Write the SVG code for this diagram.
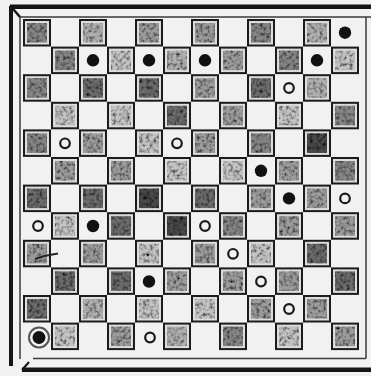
<svg xmlns="http://www.w3.org/2000/svg" width="371" height="376" viewBox="0 0 371 376">
<style>
.frame{fill:#151515}
.thin{stroke:#3a3a3a;stroke-width:1.5;fill:none}
.sq{fill:#dcdcdc;stroke:#1c1c1c;stroke-width:2}
.l{fill:#c4c4c4}.ml{fill:#b0b0b0}.m{fill:#9c9c9c}.md{fill:#868686}.d{fill:#6c6c6c}.vd{fill:#484848}
.bk{fill:#111}
.op{fill:none;stroke:#1a1a1a;stroke-width:2.2}
</style>
<defs>
<filter id="mottle" x="0" y="0" width="1" height="1">
<feTurbulence type="fractalNoise" baseFrequency="0.3" numOctaves="2" seed="7" result="n"/>
<feColorMatrix in="n" type="matrix" values="0 0 0 0 0 0 0 0 0 0 0 0 0 0 0 0 0 0 -2.2 1.3" result="a"/>
<feComposite in="a" in2="SourceGraphic" operator="in" result="spots"/>
<feMerge><feMergeNode in="SourceGraphic"/><feMergeNode in="spots"/></feMerge>
</filter>
</defs>
<rect width="371" height="376" fill="#f1f1f1"/>
<g id="frame">
<rect class="frame" x="10" y="4.5" width="361" height="4.5"/>
<rect class="frame" x="9" y="6" width="4" height="360"/>
<rect class="frame" x="22" y="367.5" width="349" height="4.5"/>
<path d="M10 5.5 L20 17" stroke="#151515" stroke-width="2.5"/>
<path d="M22 370 L29 362" stroke="#151515" stroke-width="2"/>
<path class="thin" d="M20 17 H371 M20 17 V359 M33 358.5 H366 M366 17 V358.5"/>
</g>
<g id="squares">
<rect class="sq" x="24" y="20" width="26" height="25.5"/><rect class="sq" x="80" y="20" width="26" height="25.5"/><rect class="sq" x="136" y="20" width="26" height="25.5"/><rect class="sq" x="192" y="20" width="26" height="25.5"/><rect class="sq" x="248" y="20" width="26" height="25.5"/><rect class="sq" x="304" y="20" width="26" height="25.5"/>
<rect class="sq" x="52" y="47.6" width="26" height="25.5"/><rect class="sq" x="108" y="47.6" width="26" height="25.5"/><rect class="sq" x="164" y="47.6" width="26" height="25.5"/><rect class="sq" x="220" y="47.6" width="26" height="25.5"/><rect class="sq" x="276" y="47.6" width="26" height="25.5"/><rect class="sq" x="332" y="47.6" width="26" height="25.5"/>
<rect class="sq" x="24" y="75.2" width="26" height="25.5"/><rect class="sq" x="80" y="75.2" width="26" height="25.5"/><rect class="sq" x="136" y="75.2" width="26" height="25.5"/><rect class="sq" x="192" y="75.2" width="26" height="25.5"/><rect class="sq" x="248" y="75.2" width="26" height="25.5"/><rect class="sq" x="304" y="75.2" width="26" height="25.5"/>
<rect class="sq" x="52" y="102.8" width="26" height="25.5"/><rect class="sq" x="108" y="102.8" width="26" height="25.5"/><rect class="sq" x="164" y="102.8" width="26" height="25.5"/><rect class="sq" x="220" y="102.8" width="26" height="25.5"/><rect class="sq" x="276" y="102.8" width="26" height="25.5"/><rect class="sq" x="332" y="102.8" width="26" height="25.5"/>
<rect class="sq" x="24" y="130.4" width="26" height="25.5"/><rect class="sq" x="80" y="130.4" width="26" height="25.5"/><rect class="sq" x="136" y="130.4" width="26" height="25.5"/><rect class="sq" x="192" y="130.4" width="26" height="25.5"/><rect class="sq" x="248" y="130.4" width="26" height="25.5"/><rect class="sq" x="304" y="130.4" width="26" height="25.5"/>
<rect class="sq" x="52" y="158" width="26" height="25.5"/><rect class="sq" x="108" y="158" width="26" height="25.5"/><rect class="sq" x="164" y="158" width="26" height="25.5"/><rect class="sq" x="220" y="158" width="26" height="25.5"/><rect class="sq" x="276" y="158" width="26" height="25.5"/><rect class="sq" x="332" y="158" width="26" height="25.5"/>
<rect class="sq" x="24" y="185.6" width="26" height="25.5"/><rect class="sq" x="80" y="185.6" width="26" height="25.5"/><rect class="sq" x="136" y="185.6" width="26" height="25.5"/><rect class="sq" x="192" y="185.6" width="26" height="25.5"/><rect class="sq" x="248" y="185.6" width="26" height="25.5"/><rect class="sq" x="304" y="185.6" width="26" height="25.5"/>
<rect class="sq" x="52" y="213.2" width="26" height="25.5"/><rect class="sq" x="108" y="213.2" width="26" height="25.5"/><rect class="sq" x="164" y="213.2" width="26" height="25.5"/><rect class="sq" x="220" y="213.2" width="26" height="25.5"/><rect class="sq" x="276" y="213.2" width="26" height="25.5"/><rect class="sq" x="332" y="213.2" width="26" height="25.5"/>
<rect class="sq" x="24" y="240.8" width="26" height="25.5"/><rect class="sq" x="80" y="240.8" width="26" height="25.5"/><rect class="sq" x="136" y="240.8" width="26" height="25.5"/><rect class="sq" x="192" y="240.8" width="26" height="25.5"/><rect class="sq" x="248" y="240.8" width="26" height="25.5"/><rect class="sq" x="304" y="240.8" width="26" height="25.5"/>
<rect class="sq" x="52" y="268.4" width="26" height="25.5"/><rect class="sq" x="108" y="268.4" width="26" height="25.5"/><rect class="sq" x="164" y="268.4" width="26" height="25.5"/><rect class="sq" x="220" y="268.4" width="26" height="25.5"/><rect class="sq" x="276" y="268.4" width="26" height="25.5"/><rect class="sq" x="332" y="268.4" width="26" height="25.5"/>
<rect class="sq" x="24" y="296" width="26" height="25.5"/><rect class="sq" x="80" y="296" width="26" height="25.5"/><rect class="sq" x="136" y="296" width="26" height="25.5"/><rect class="sq" x="192" y="296" width="26" height="25.5"/><rect class="sq" x="248" y="296" width="26" height="25.5"/><rect class="sq" x="304" y="296" width="26" height="25.5"/>
<rect class="sq" x="52" y="323.6" width="26" height="25.5"/><rect class="sq" x="108" y="323.6" width="26" height="25.5"/><rect class="sq" x="164" y="323.6" width="26" height="25.5"/><rect class="sq" x="220" y="323.6" width="26" height="25.5"/><rect class="sq" x="276" y="323.6" width="26" height="25.5"/><rect class="sq" x="332" y="323.6" width="26" height="25.5"/>
</g>
<g id="square-fills" filter="url(#mottle)">
<rect class="md" x="27" y="23" width="20" height="19.5"/><rect class="ml" x="83" y="23" width="20" height="19.5"/><rect class="m" x="139" y="23" width="20" height="19.5"/><rect class="m" x="195" y="23" width="20" height="19.5"/><rect class="md" x="251" y="23" width="20" height="19.5"/><rect class="ml" x="307" y="23" width="20" height="19.5"/>
<rect class="md" x="55" y="50.6" width="20" height="19.5"/><rect class="l" x="111" y="50.6" width="20" height="19.5"/><rect class="ml" x="167" y="50.6" width="20" height="19.5"/><rect class="m" x="223" y="50.6" width="20" height="19.5"/><rect class="md" x="279" y="50.6" width="20" height="19.5"/><rect class="l" x="335" y="50.6" width="20" height="19.5"/>
<rect class="md" x="27" y="78.2" width="20" height="19.5"/><rect class="d" x="83" y="78.2" width="20" height="19.5"/><rect class="d" x="139" y="78.2" width="20" height="19.5"/><rect class="m" x="195" y="78.2" width="20" height="19.5"/><rect class="d" x="251" y="78.2" width="20" height="19.5"/><rect class="ml" x="307" y="78.2" width="20" height="19.5"/>
<rect class="l" x="55" y="105.8" width="20" height="19.5"/><rect class="l" x="111" y="105.8" width="20" height="19.5"/><rect class="d" x="167" y="105.8" width="20" height="19.5"/><rect class="m" x="223" y="105.8" width="20" height="19.5"/><rect class="l" x="279" y="105.8" width="20" height="19.5"/><rect class="md" x="335" y="105.8" width="20" height="19.5"/>
<rect class="md" x="27" y="133.4" width="20" height="19.5"/><rect class="m" x="83" y="133.4" width="20" height="19.5"/><rect class="l" x="139" y="133.4" width="20" height="19.5"/><rect class="m" x="195" y="133.4" width="20" height="19.5"/><rect class="md" x="251" y="133.4" width="20" height="19.5"/><rect class="vd" x="307" y="133.4" width="20" height="19.5"/>
<rect class="m" x="55" y="161" width="20" height="19.5"/><rect class="m" x="111" y="161" width="20" height="19.5"/><rect class="l" x="167" y="161" width="20" height="19.5"/><rect class="l" x="223" y="161" width="20" height="19.5"/><rect class="m" x="279" y="161" width="20" height="19.5"/><rect class="md" x="335" y="161" width="20" height="19.5"/>
<rect class="d" x="27" y="188.6" width="20" height="19.5"/><rect class="d" x="83" y="188.6" width="20" height="19.5"/><rect class="vd" x="139" y="188.6" width="20" height="19.5"/><rect class="d" x="195" y="188.6" width="20" height="19.5"/><rect class="m" x="251" y="188.6" width="20" height="19.5"/><rect class="m" x="307" y="188.6" width="20" height="19.5"/>
<rect class="l" x="55" y="216.2" width="20" height="19.5"/><rect class="d" x="111" y="216.2" width="20" height="19.5"/><rect class="vd" x="167" y="216.2" width="20" height="19.5"/><rect class="md" x="223" y="216.2" width="20" height="19.5"/><rect class="m" x="279" y="216.2" width="20" height="19.5"/><rect class="m" x="335" y="216.2" width="20" height="19.5"/>
<rect class="m" x="27" y="243.8" width="20" height="19.5"/><rect class="m" x="83" y="243.8" width="20" height="19.5"/><rect class="l" x="139" y="243.8" width="20" height="19.5"/><rect class="m" x="195" y="243.8" width="20" height="19.5"/><rect class="l" x="251" y="243.8" width="20" height="19.5"/><rect class="d" x="307" y="243.8" width="20" height="19.5"/>
<rect class="d" x="55" y="271.4" width="20" height="19.5"/><rect class="d" x="111" y="271.4" width="20" height="19.5"/><rect class="m" x="167" y="271.4" width="20" height="19.5"/><rect class="m" x="223" y="271.4" width="20" height="19.5"/><rect class="m" x="279" y="271.4" width="20" height="19.5"/><rect class="d" x="335" y="271.4" width="20" height="19.5"/>
<rect class="d" x="27" y="299" width="20" height="19.5"/><rect class="ml" x="83" y="299" width="20" height="19.5"/><rect class="l" x="139" y="299" width="20" height="19.5"/><rect class="l" x="195" y="299" width="20" height="19.5"/><rect class="m" x="251" y="299" width="20" height="19.5"/><rect class="m" x="307" y="299" width="20" height="19.5"/>
<rect class="l" x="55" y="326.6" width="20" height="19.5"/><rect class="m" x="111" y="326.6" width="20" height="19.5"/><rect class="ml" x="167" y="326.6" width="20" height="19.5"/><rect class="md" x="223" y="326.6" width="20" height="19.5"/><rect class="l" x="279" y="326.6" width="20" height="19.5"/><rect class="m" x="335" y="326.6" width="20" height="19.5"/>
</g>
<path d="M35 259 Q46 255 58 253.5" fill="none" stroke="#222" stroke-width="2"/>
<g id="pieces">
<circle class="bk" cx="345" cy="32.7" r="6.2"/>
<circle class="bk" cx="93" cy="60.3" r="6.2"/><circle class="bk" cx="149" cy="60.3" r="6.2"/><circle class="bk" cx="205" cy="60.3" r="6.2"/><circle class="bk" cx="317" cy="60.3" r="6.2"/>
<circle class="op" cx="289" cy="88" r="4.8"/>
<circle class="op" cx="65" cy="143.3" r="4.8"/><circle class="op" cx="177" cy="143.3" r="4.8"/>
<circle class="bk" cx="261" cy="170.8" r="6.2"/>
<circle class="bk" cx="289" cy="198.4" r="6.2"/><circle class="op" cx="345" cy="198.4" r="4.8"/>
<circle class="op" cx="38" cy="226" r="4.8"/><circle class="bk" cx="93" cy="226" r="6.2"/><circle class="op" cx="205" cy="226" r="4.8"/>
<circle class="op" cx="233" cy="253.8" r="4.8"/>
<circle class="bk" cx="149" cy="281.5" r="6.2"/><circle class="op" cx="261" cy="281.5" r="4.8"/>
<circle class="op" cx="289" cy="309" r="4.8"/>
<circle cx="39" cy="337.5" r="10" fill="none" stroke="#555" stroke-width="2"/><circle class="bk" cx="39" cy="337.5" r="6.5"/>
<circle class="op" cx="150" cy="337.5" r="4.8"/>
</g>
</svg>
